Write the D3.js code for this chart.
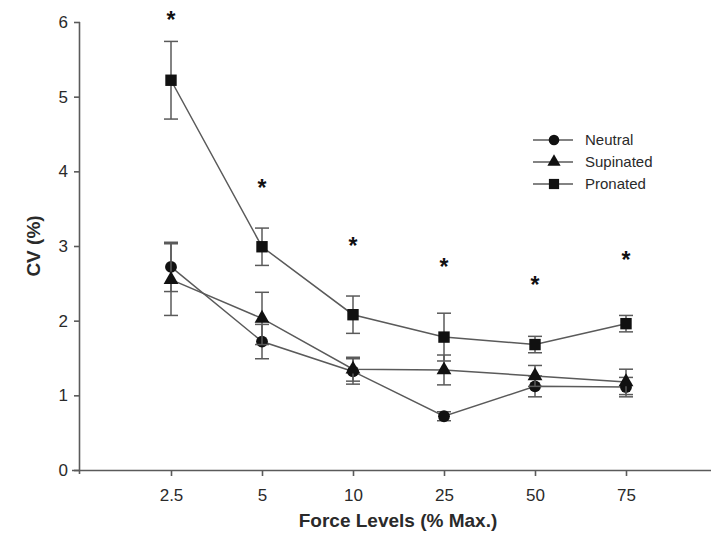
<!DOCTYPE html>
<html>
<head>
<meta charset="utf-8">
<script src="https://cdn.jsdelivr.net/npm/d3@7"></script>
<style>
  body { margin: 0; background: #fff; }
  text { font-family: "Liberation Sans", Arial, sans-serif; }
</style>
</head>
<body>
<svg id="chart" width="711" height="542"></svg>
<script>
// force levels (x categories)
const levels = ["2.5", "5", "10", "25", "50", "75"];
const yTicks = [0, 1, 2, 3, 4, 5, 6];

// mean CV (%) and error (+/-) per series
const neutral = [2.72, 1.72, 1.32, 0.72, 1.12, 1.11];
const neutralErr = [0.33, 0.23, 0.17, 0.06, 0.14, 0.13];
const supinated = [2.55, 2.03, 1.35, 1.34, 1.26, 1.18];
const supinatedErr = [0.48, 0.35, 0.16, 0.2, 0.14, 0.17];
const pronated = [5.22, 2.99, 2.08, 1.78, 1.68, 1.96];
const pronatedErr = [0.52, 0.25, 0.25, 0.32, 0.11, 0.11];

// significance markers (height in CV units)
const starY = [6.09, 3.84, 3.07, 2.79, 2.54, 2.88];

const series = [
  { name: "Neutral", values: neutral, err: neutralErr, symbol: d3.symbolCircle, size: 110 },
  { name: "Supinated", values: supinated, err: supinatedErr, symbol: d3.symbolTriangle, size: 95 },
  { name: "Pronated", values: pronated, err: pronatedErr, symbol: d3.symbolSquare, size: 130 }
];

const svg = d3.select("#chart");

const x = d3.scaleLinear().domain([0, 7]).range([80, 717]);
const y = d3.scaleLinear().domain([0, 6]).range([470, 22]);

const lineCol = "#5a5a5a";
const textCol = "#2a2a2a";

// axes
const xAxis = svg.append("g")
  .attr("transform", "translate(0,470)")
  .call(d3.axisBottom(x)
    .tickValues(d3.range(1, levels.length + 1))
    .tickFormat((d) => levels[d - 1])
    .tickSize(6)
    .tickSizeOuter(0)
    .tickPadding(13));
xAxis.select(".domain").attr("d", "M72,0.5H717");

const yAxis = svg.append("g")
  .attr("transform", "translate(80,0)")
  .call(d3.axisLeft(y)
    .tickValues(yTicks)
    .tickFormat(d3.format("d"))
    .tickSize(6)
    .tickSizeOuter(0)
    .tickPadding(6));
yAxis.select(".domain").attr("d", "M-0.5,22V474");

svg.selectAll(".domain, .tick line")
  .attr("stroke", lineCol)
  .attr("stroke-width", 1.6);
svg.selectAll(".tick text")
  .attr("fill", textCol)
  .style("font-size", "17px");

// axis titles
svg.append("text")
  .attr("transform", "translate(40,246) rotate(-90)")
  .attr("text-anchor", "middle")
  .attr("fill", textCol)
  .style("font-size", "19px")
  .style("font-weight", "bold")
  .text("CV (%)");

svg.append("text")
  .attr("x", 398)
  .attr("y", 527)
  .attr("text-anchor", "middle")
  .attr("fill", textCol)
  .style("font-size", "19px")
  .style("font-weight", "bold")
  .text("Force Levels (% Max.)");

const line = d3.line()
  .x((d, i) => x(i + 1))
  .y((d) => y(d));

series.forEach((s) => {
  const g = svg.append("g");

  // error bars
  s.values.forEach((v, i) => {
    const cx = x(i + 1);
    const lo = y(v - s.err[i]);
    const hi = y(v + s.err[i]);
    g.append("line")
      .attr("x1", cx).attr("x2", cx)
      .attr("y1", lo).attr("y2", hi)
      .attr("stroke", lineCol).attr("stroke-width", 1.5);
    [lo, hi].forEach((yy) => {
      g.append("line")
        .attr("x1", cx - 7).attr("x2", cx + 7)
        .attr("y1", yy).attr("y2", yy)
        .attr("stroke", lineCol).attr("stroke-width", 1.5);
    });
  });

  g.append("path")
    .datum(s.values)
    .attr("d", line)
    .attr("fill", "none")
    .attr("stroke", lineCol)
    .attr("stroke-width", 1.5);

  g.selectAll(".mark")
    .data(s.values)
    .enter()
    .append("path")
    .attr("class", "mark")
    .attr("transform", (d, i) => `translate(${x(i + 1)},${y(d)})`)
    .attr("d", d3.symbol().type(s.symbol).size(s.size))
    .attr("fill", "#111");
});

// significance stars
svg.selectAll(".star")
  .data(starY)
  .enter()
  .append("text")
  .attr("class", "star")
  .attr("x", (d, i) => x(i + 1))
  .attr("y", (d) => y(d) + 13)
  .attr("text-anchor", "middle")
  .attr("fill", "#111")
  .style("font-size", "23px")
  .style("font-weight", "bold")
  .text("*");

// legend
const legend = svg.append("g").attr("transform", "translate(533,140)");
series.forEach((s, i) => {
  const row = legend.append("g").attr("transform", `translate(0,${i * 22})`);
  row.append("line")
    .attr("x1", 0).attr("x2", 40)
    .attr("y1", 0).attr("y2", 0)
    .attr("stroke", lineCol).attr("stroke-width", 1.5);
  row.append("path")
    .attr("transform", "translate(21,0)")
    .attr("d", d3.symbol().type(s.symbol).size(s.size * 0.8))
    .attr("fill", "#111");
  row.append("text")
    .attr("x", 52)
    .attr("y", 5)
    .attr("fill", textCol)
    .style("font-size", "15px")
    .text(s.name);
});
</script>
</body>
</html>
